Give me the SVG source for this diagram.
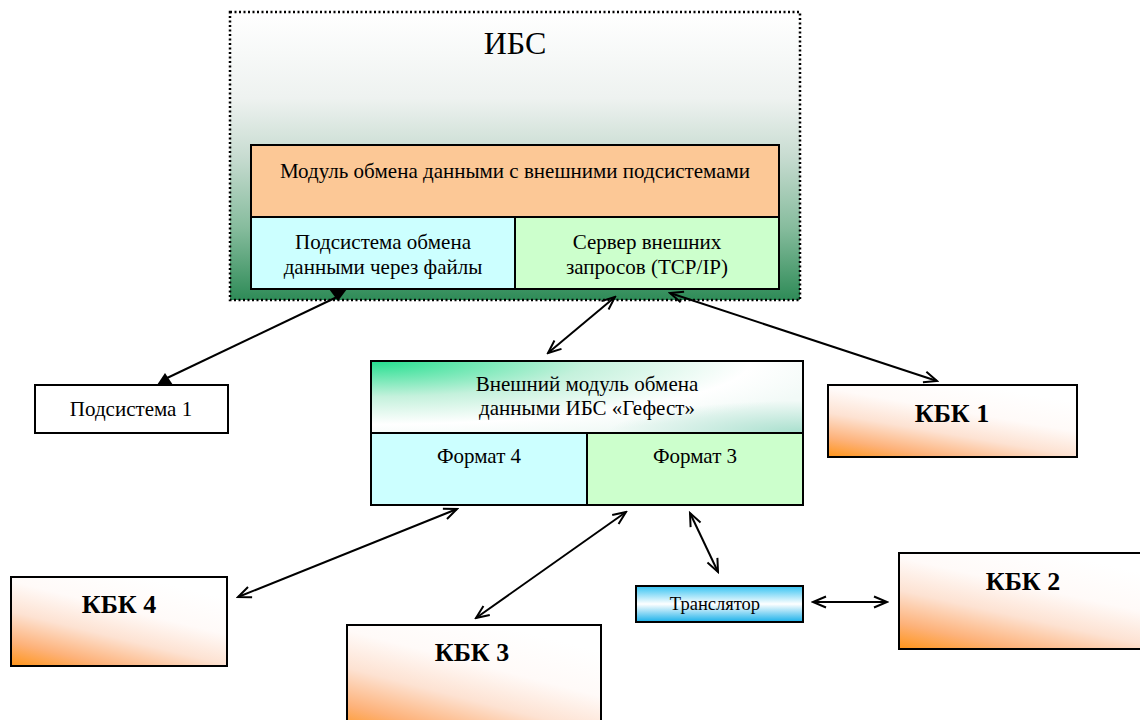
<svg xmlns="http://www.w3.org/2000/svg" width="1140" height="720" viewBox="0 0 1140 720">
  <style>
    .t { font-family: "Liberation Serif", "Times New Roman", serif; font-size: 21px; fill: #000; text-anchor: middle; }
    .big { font-family: "Liberation Serif", "Times New Roman", serif; font-size: 32px; fill: #000; text-anchor: middle; }
    .kbk { font-family: "Liberation Serif", "Times New Roman", serif; font-size: 26px; font-weight: bold; fill: #000; text-anchor: middle; }
    .small { font-family: "Liberation Serif", "Times New Roman", serif; font-size: 18.5px; fill: #000; text-anchor: middle; }
    .box { stroke: #000; stroke-width: 2; }
    .link { stroke: #000; stroke-width: 2; fill: none; marker-start: url(#open); marker-end: url(#open); }
  </style>
  <defs>
    <linearGradient id="ibsFill" x1="0" y1="0" x2="0" y2="1">
      <stop offset="0" stop-color="#ffffff"/>
      <stop offset="0.3" stop-color="#eef2f0"/>
      <stop offset="0.5" stop-color="#c8dcd1"/>
      <stop offset="0.75" stop-color="#86bc9d"/>
      <stop offset="1" stop-color="#2e8b57"/>
    </linearGradient>
    <linearGradient id="kbkFill" x1="0" y1="1" x2="0.6" y2="0">
      <stop offset="0" stop-color="#ff9418"/>
      <stop offset="0.2" stop-color="#fdb27a"/>
      <stop offset="0.45" stop-color="#fde2d2"/>
      <stop offset="0.7" stop-color="#fffaf8"/>
      <stop offset="1" stop-color="#ffffff"/>
    </linearGradient>
    <radialGradient id="extFill" cx="0" cy="0" r="1.1" gradientUnits="objectBoundingBox">
      <stop offset="0" stop-color="#22df8e"/>
      <stop offset="0.45" stop-color="#c4f1dc"/>
      <stop offset="0.8" stop-color="#ffffff"/>
      <stop offset="1" stop-color="#f2faf7"/>
    </radialGradient>
    <radialGradient id="extTint" cx="1" cy="1" r="0.45" gradientUnits="objectBoundingBox">
      <stop offset="0" stop-color="#9fdcc8" stop-opacity="0.9"/>
      <stop offset="1" stop-color="#9fdcc8" stop-opacity="0"/>
    </radialGradient>
    <linearGradient id="trFill" x1="0" y1="0" x2="0" y2="1">
      <stop offset="0" stop-color="#33c2f2"/>
      <stop offset="0.5" stop-color="#ffffff"/>
      <stop offset="1" stop-color="#18b0ea"/>
    </linearGradient>
    <marker id="open" viewBox="-15 -8 17 16" refX="0" refY="0" markerWidth="17" markerHeight="16" markerUnits="userSpaceOnUse" orient="auto-start-reverse">
      <path d="M-13,-5.5 L0,0 L-13,5.5" fill="none" stroke="#000" stroke-width="2"/>
    </marker>
  </defs>

  <!-- ИБС container -->
  <g id="ibs">
    <rect x="230" y="12" width="570" height="288" fill="url(#ibsFill)" stroke="#000" stroke-width="2.5" stroke-dasharray="2 2.5"/>
    <text class="big" x="515" y="54">ИБС</text>
  </g>

  <g id="exchange-module">
    <rect class="box" x="251" y="145" width="528" height="72" fill="#fcc896"/>
    <text class="t" x="515" y="178">Модуль обмена данными с внешними подсистемами</text>
  </g>

  <g id="file-exchange">
    <rect class="box" x="251" y="217" width="264" height="72" fill="#ccffff"/>
    <text class="t" x="383" y="249">Подсистема обмена</text>
    <text class="t" x="383" y="274">данными через файлы</text>
  </g>

  <g id="request-server">
    <rect class="box" x="515" y="217" width="264" height="72" fill="#ccffcc"/>
    <text class="t" x="647" y="249">Сервер внешних</text>
    <text class="t" x="647" y="274">запросов (TCP/IP)</text>
  </g>

  <g id="subsystem1">
    <rect class="box" x="35" y="385" width="193" height="48" fill="#ffffff"/>
    <text class="t" x="131" y="416">Подсистема 1</text>
  </g>

  <!-- external exchange module -->
  <g id="ext-module">
    <rect x="371" y="361" width="432" height="72" fill="url(#extFill)"/>
    <rect x="371" y="361" width="432" height="72" fill="url(#extTint)"/>
    <rect class="box" x="371" y="361" width="432" height="72" fill="none"/>
    <text class="t" x="587" y="391">Внешний модуль обмена</text>
    <text class="t" x="587" y="415">данными ИБС «Гефест»</text>
  </g>

  <g id="format4">
    <rect class="box" x="371" y="433" width="216" height="72" fill="#ccffff"/>
    <text class="t" x="479" y="463">Формат 4</text>
  </g>

  <g id="format3">
    <rect class="box" x="587" y="433" width="216" height="72" fill="#ccffcc"/>
    <text class="t" x="695" y="463">Формат 3</text>
  </g>

  <g id="kbk1">
    <rect class="box" x="828" y="385" width="249" height="72" fill="url(#kbkFill)"/>
    <text class="kbk" x="952" y="422">КБК 1</text>
  </g>

  <g id="kbk4">
    <rect class="box" x="11" y="577" width="216" height="89" fill="url(#kbkFill)"/>
    <text class="kbk" x="119" y="613">КБК 4</text>
  </g>

  <g id="kbk3">
    <rect class="box" x="347" y="625" width="254" height="110" fill="url(#kbkFill)"/>
    <text class="kbk" x="472" y="661">КБК 3</text>
  </g>

  <g id="kbk2">
    <rect class="box" x="899" y="553" width="260" height="96" fill="url(#kbkFill)"/>
    <text class="kbk" x="1023" y="590">КБК 2</text>
  </g>

  <g id="translator">
    <rect class="box" x="636" y="586" width="167" height="36" fill="url(#trFill)"/>
    <text class="small" x="715" y="610">Транслятор</text>
  </g>

  <!-- connectors -->
  <g id="connectors">
    <line x1="165" y1="379" x2="337" y2="297" stroke="#000" stroke-width="2"/>
    <polygon points="329,289 347,289 338,301" fill="#000"/>
    <polygon points="157,385 173,385 165,373" fill="#000"/>
    <line class="link" x1="615" y1="297" x2="548" y2="353"/>
    <line class="link" x1="670" y1="293" x2="937" y2="381"/>
    <line class="link" x1="457" y1="509" x2="238" y2="597"/>
    <line class="link" x1="626" y1="512" x2="476" y2="618"/>
    <line class="link" x1="690" y1="513" x2="718" y2="572"/>
    <line class="link" x1="813" y1="602" x2="887" y2="602"/>
  </g>
</svg>
